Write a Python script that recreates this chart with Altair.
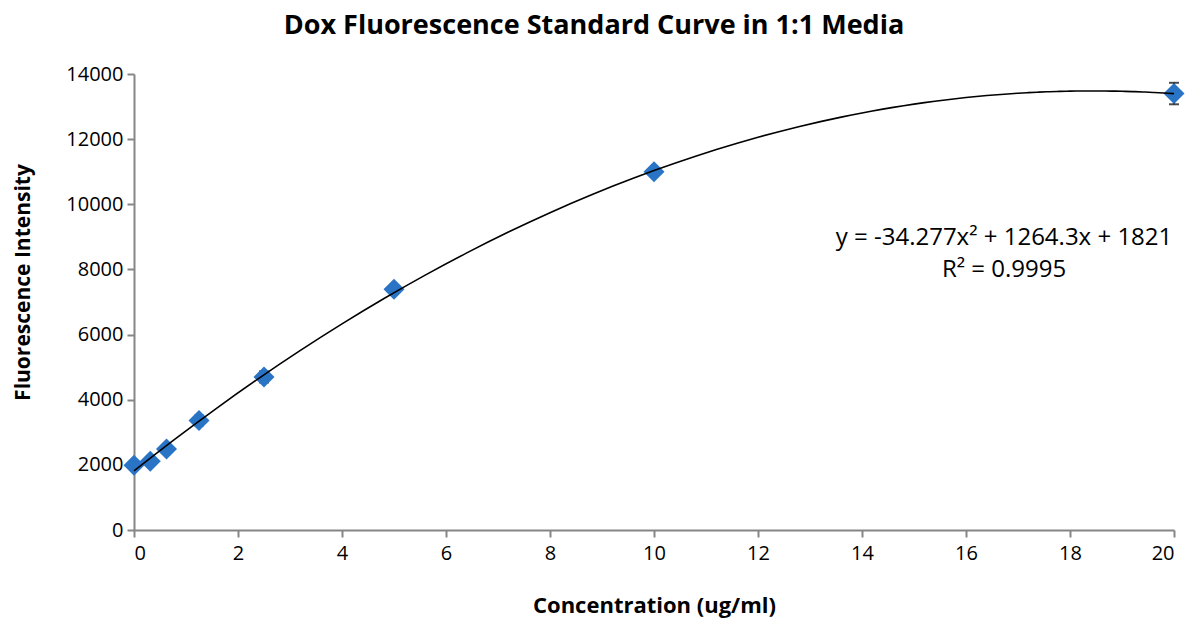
import altair as alt
import pandas as pd

# Dox standard dilutions (ug/ml) and measured fluorescence
concentration = [0, 0.3125, 0.625, 1.25, 2.5, 5, 10, 20]
intensity = [1990, 2110, 2490, 3360, 4700, 7390, 11000, 13400]
std_dev = [40, 50, 60, 150, 170, 100, 120, 330]

fit_equation = "y = -34.277x² + 1264.3x + 1821"
fit_r2 = "R² = 0.9995"

df = pd.DataFrame({
    "conc": concentration,
    "fl": intensity,
    "lo": [v - s for v, s in zip(intensity, std_dev)],
    "hi": [v + s for v, s in zip(intensity, std_dev)],
})

FONT = "Open Sans"
x_scale = alt.Scale(domain=[0, 20], nice=False, zero=True)
y_scale = alt.Scale(domain=[0, 14000], nice=False)

axis_style = dict(
    grid=False, format="d", labelFont=FONT, titleFont=FONT,
    labelFontSize=20, titleFontWeight="bold",
    labelColor="black", titleColor="black",
    domainColor="#868686", tickColor="#868686", domainWidth=2, tickWidth=2, tickSize=7,
)
x_axis = alt.Axis(title="Concentration (ug/ml)", values=list(range(0, 21, 2)),
                  titleFontSize=22, titlePadding=32, labelPadding=6, **axis_style)
y_axis = alt.Axis(title="Fluorescence Intensity", values=list(range(0, 14001, 2000)),
                  titleFontSize=21, titlePadding=32, titleY=208, labelPadding=4, **axis_style)

base = alt.Chart(df)

errbars = base.mark_errorbar(ticks={"size": 10, "thickness": 2, "color": "black"}, color="black", thickness=1.5).encode(
    x=alt.X("conc:Q", scale=x_scale, axis=x_axis),
    y=alt.Y("lo:Q", scale=y_scale, axis=y_axis),
    y2="hi:Q",
)

points = base.mark_point(shape="diamond", filled=True, size=440, color="#2A74C6", opacity=1).encode(
    x=alt.X("conc:Q", scale=x_scale, axis=x_axis),
    y=alt.Y("fl:Q", scale=y_scale, axis=y_axis),
)

trend = base.transform_regression("conc", "fl", method="poly", order=2, extent=[0, 20]).mark_line(
    color="black", strokeWidth=1.6, interpolate="monotone"
).encode(
    x=alt.X("conc:Q", scale=x_scale, axis=x_axis),
    y=alt.Y("fl:Q", scale=y_scale, axis=y_axis),
)

label_eq = alt.Chart(pd.DataFrame({"t": [fit_equation]})).mark_text(
    fontSize=24, font=FONT, color="black", align="center"
).encode(text="t:N", x=alt.value(870), y=alt.value(164))

label_r2 = alt.Chart(pd.DataFrame({"t": [fit_r2]})).mark_text(
    fontSize=24, font=FONT, color="black", align="center"
).encode(text="t:N", x=alt.value(870), y=alt.value(196))

chart = alt.layer(errbars, points, trend, label_eq, label_r2).properties(
    width=1040,
    height=456,
    background="white",
    title=alt.TitleParams(
        "Dox Fluorescence Standard Curve in 1:1 Media",
        fontSize=27, fontWeight="bold", font=FONT, anchor="middle", dx=-60, offset=24,
    ),
    autosize=alt.AutoSizeParams(type="none"),
    padding={"left": 134, "top": 74, "right": 24, "bottom": 93},
).configure_view(stroke=None)

chart.save("out.html", embed_options={"renderer": "svg", "actions": False})
